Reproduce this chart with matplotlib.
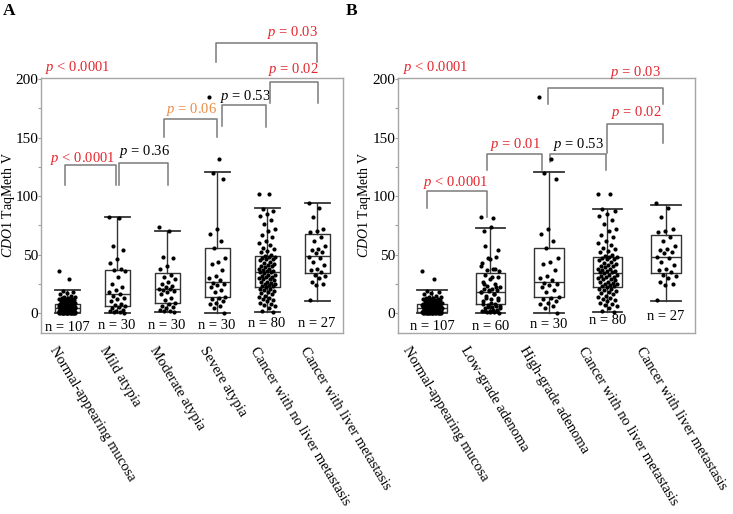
import numpy as np
import matplotlib
matplotlib.use("Agg")
import matplotlib.pyplot as plt
import matplotlib.transforms as mtransforms

plt.rcParams['font.family'] = ['Liberation Serif', 'DejaVu Serif']
plt.rcParams['mathtext.fontset'] = 'custom'
plt.rcParams['mathtext.rm'] = 'Liberation Serif'
plt.rcParams['mathtext.it'] = 'Liberation Serif:italic'

# ---- valores ----
grupos_a = ['Normal-appearing mucosa', 'Mild atypia', 'Moderate atypia', 'Severe atypia',
            'Cancer with no liver metastasis', 'Cancer with liver metastasis']
grupos_b = ['Normal-appearing mucosa', 'Low-grade adenoma', 'High-grade adenoma',
            'Cancer with no liver metastasis', 'Cancer with liver metastasis']

normal = [36, 29,
          19, 18, 17, 16, 15, 14, 14, 13, 13, 12, 12, 12, 11, 11, 11, 10, 10, 10, 10, 9, 9, 9, 9, 8.5,
          8, 8, 7.8, 7.5, 7.5, 7.2, 7, 7, 6.8, 6.5, 6.5, 6.2, 6, 6, 5.8, 5.5, 5.5, 5.3, 5.2, 5, 5,
          4.9, 4.8, 4.7, 4.6, 4.5, 4.5,
          4.4, 4.2, 4, 4, 3.8, 3.6, 3.5, 3.3, 3.2, 3, 3, 2.8, 2.6, 2.5, 2.4, 2.2, 2, 2, 1.9, 1.8,
          1.6, 1.5, 1.4, 1.3, 1.2, 1.1, 1,
          0.95, 0.9, 0.9, 0.85, 0.8, 0.8, 0.75, 0.7, 0.7, 0.6, 0.6, 0.5, 0.5, 0.5, 0.4, 0.4, 0.3,
          0.3, 0.3, 0.2, 0.2, 0.1, 0.1, 0, 0, 0, 0]
leve = [82, 81, 57, 54, 46, 43, 38, 37, 36, 31, 25, 22, 20, 18, 16, 15, 13, 12, 10, 8,
        7, 6, 5, 4, 3, 2, 2, 1, 1, 0]
moderada = [74, 70, 48, 47, 40, 38, 33, 31, 29, 27, 25, 23, 22, 21, 21, 20, 19, 18, 16, 13,
            11, 9, 8, 6, 5, 4, 3, 2, 2, 1]
severa = [185, 132, 120, 115, 72, 68, 62, 56, 47, 44, 42, 37, 32, 30, 28, 26, 25, 24, 22, 20,
          18, 14, 13, 12, 10, 9, 8, 6, 4, 0]
cancer_sin = [102, 102,
              89, 87, 85, 83, 80, 76, 72, 70, 67, 65, 62, 60, 58, 56, 55, 53, 52, 50,
              49, 48, 48, 47, 46, 46, 45, 44, 43, 42, 41, 40, 40, 39, 38, 38, 37, 36, 36, 35,
              35, 34, 33, 33, 32, 31, 31, 30, 29, 29, 28, 27, 27, 26, 25, 25, 24, 23, 23, 22,
              21, 21, 20, 19, 18, 17, 16, 15, 14, 13, 12, 11, 10, 9, 8, 7, 6, 4, 2, 1]
cancer_con = [94, 90, 82, 72, 70, 69, 65, 62, 57, 55, 54, 52, 51, 48, 47, 44, 41, 38, 37, 35,
              33, 32, 30, 27, 25, 24, 11]

# estadisticos de las cajas (whislo, q1, med, q3, whishi)
cajas_a = [(0, 1, 4.5, 8, 19.5), (0, 6, 16, 37, 82), (1, 9, 20.5, 34, 70),
           (0, 14, 27, 56, 121), (1, 22, 35, 49, 90), (10.5, 34.5, 49, 68, 94)]
cajas_b = [(0, 1, 4.5, 8, 19.5), (0.5, 7.5, 18, 34, 73), (0, 14, 27, 56, 121),
           (1, 22, 34, 48, 89), (10.5, 34, 48, 67, 92)]

puntos_a = [normal, leve, moderada, severa, cancer_sin, cancer_con]
puntos_b = [normal, leve + moderada, severa, cancer_sin, cancer_con]

n_a = [107, 30, 30, 30, 80, 27]
n_b = [107, 60, 30, 80, 27]

ROJO = '#e3262d'
NARANJA = '#ee8a44'
GRIS = '#7a7a7a'

# anotaciones: (x1, x2, y_arriba, y_izq, y_der)
corchetes_a = [(0.96, 1.98, 126.5, 109.5, 109.5), (2.04, 3.02, 128, 109.5, 109.5),
               (2.94, 4.0, 166, 150.5, 150.5), (4.1, 4.98, 178, 160, 159),
               (5.06, 6.02, 197.5, 180, 180), (3.98, 6.0, 231, 214.5, 214.5)]
textos_a = [(1.32, 132, r'$p$ < 0.0001', ROJO), (2.54, 138, r'$p$ = 0.36', 'black'),
            (3.48, 174, r'$p$ = 0.06', NARANJA), (4.57, 185, r'$p$ = 0.53', 'black'),
            (5.53, 208.5, r'$p$ = 0.02', ROJO), (5.51, 240, r'$p$ = 0.03', ROJO)]
corchetes_b = [(0.915, 1.94, 104, 89.5, 82), (1.94, 2.88, 136, 122, 122),
               (3.02, 3.97, 136, 129, 122), (3.99, 4.95, 161.5, 137, 145.5),
               (2.98, 4.95, 192.5, 178.5, 178.5)]
textos_b = [(1.41, 111.7, r'$p$ < 0.0001', ROJO), (2.43, 144.4, r'$p$ = 0.01', ROJO),
            (3.50, 144.4, r'$p$ = 0.53', 'black'), (4.49, 171.5, r'$p$ = 0.02', ROJO),
            (4.47, 205.7, r'$p$ = 0.03', ROJO)]


def jitter(n, ancho):
    k = np.arange(n)
    return ((k * 0.6180339887) % 1.0 - 0.5) * 2 * ancho


def dibujar_panel(ax, grupos, cajas, puntos, ns, n_y, corchetes, textos, xlim, desfase,
                  x_etiqueta):
    pos = np.arange(1, len(grupos) + 1)
    stats = [dict(whislo=c[0], q1=c[1], med=c[2], q3=c[3], whishi=c[4], fliers=[])
             for c in cajas]
    ax.bxp(stats, positions=pos, widths=0.5, capwidths=0.5, showfliers=False,
           boxprops=dict(color='#333333', lw=1.0),
           whiskerprops=dict(color='#333333', lw=1.0),
           capprops=dict(color='#333333', lw=1.3),
           medianprops=dict(color='#333333', lw=1.0))
    for p, vals in zip(pos, puntos):
        vals = np.array(vals, dtype=float)
        ax.scatter(p + jitter(len(vals), 0.17), vals, s=9, color='black',
                   linewidths=0, zorder=5)
    for p, n, y in zip(pos, ns, n_y):
        ax.text(p, y, f'n = {n}', ha='center', va='center', fontsize=10.5)

    for x1, x2, yt, yl, yr in corchetes:
        ax.plot([x1, x1, x2, x2], [yl, yt, yt, yr], color=GRIS, lw=1.1,
                clip_on=False, zorder=4)
    for x, y, t, c in textos:
        ax.text(x, y, t, ha='center', va='center', color=c, fontsize=10.5,
                clip_on=False)
    ax.text(xlim[0] + 0.08, 210, r'$p$ < 0.0001', ha='left', va='center', color=ROJO,
            fontsize=10.5, clip_on=False)

    trans = mtransforms.blended_transform_factory(ax.transData, ax.transAxes)
    for p, g in zip(pos, grupos):
        ax.text(p + desfase, -0.045, g, transform=trans, rotation=-59,
                rotation_mode='anchor', ha='left', va='top', fontsize=10.5)

    ax.set_xlim(*xlim)
    ax.set_ylim(-17, 201)
    ax.set_xticks([])
    ax.set_yticks([0, 50, 100, 150, 200])
    ax.set_yticks([25, 75, 125, 175], minor=True)
    ax.tick_params(axis='y', which='major', length=2, width=0.8, color='#a0a0a0',
                   labelsize=11, pad=0)
    ax.tick_params(axis='y', which='minor', length=2, width=0.8, color='#a0a0a0')
    for s in ax.spines.values():
        s.set_color('#a6a6a6')
        s.set_linewidth(1.0)
    ax.set_ylabel(r'$\mathit{CDO1}$ TaqMeth V', fontsize=10)
    ax.yaxis.set_label_coords(x_etiqueta, 0.5)


fig = plt.figure(figsize=(7.33, 5.14), dpi=100)
ax_a = fig.add_axes([41 / 733, 181 / 514, 302 / 733, 255 / 514])
ax_b = fig.add_axes([398 / 733, 181 / 514, 297 / 733, 255 / 514])

dibujar_panel(ax_a, grupos_a, cajas_a, puntos_a, n_a, [-12, -10.5, -10.5, -10.5, -9, -9],
              corchetes_a, textos_a, (0.48, 6.52), -0.17, -0.078)
dibujar_panel(ax_b, grupos_b, cajas_b, puntos_b, n_b, [-11.5, -11.5, -10, -6.5, -3],
              corchetes_b, textos_b, (0.419, 5.496), -0.36, -0.085)

fig.text(3 / 733, 1 - 3 / 514, 'A', fontsize=12.5, fontweight='bold', va='top', ha='left')
fig.text(346 / 733, 1 - 3 / 514, 'B', fontsize=12.5, fontweight='bold', va='top', ha='left')

fig.savefig('out.png', dpi=100)
